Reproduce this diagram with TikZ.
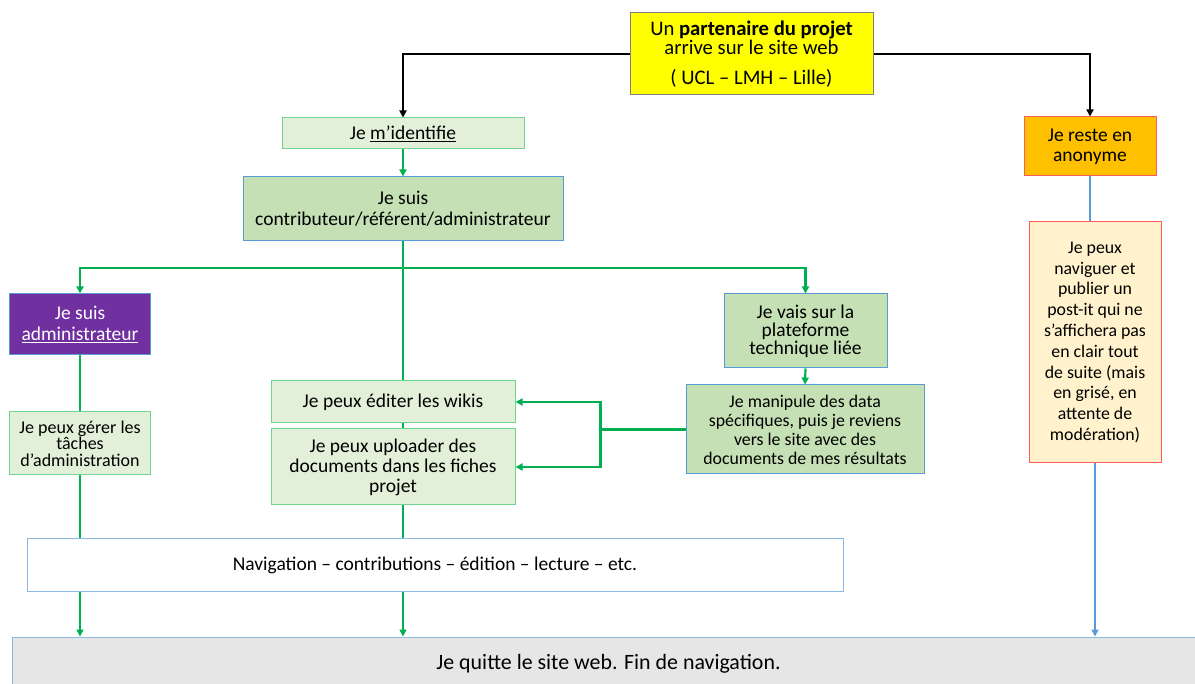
\documentclass[tikz,border=0pt]{standalone}
\usepackage{fontspec}
\setmainfont{Carlito}
\usetikzlibrary{arrows.meta}

\definecolor{filvert}{HTML}{00B050}
\definecolor{filbleu}{HTML}{5B9BD5}
\definecolor{vertpale}{HTML}{E2F0D9}
\definecolor{vertmoyen}{HTML}{C5E0B4}
\definecolor{bordvert}{HTML}{70D38E}
\definecolor{adminviolet}{HTML}{7030A0}
\definecolor{anonorange}{HTML}{FFC000}
\definecolor{postitcreme}{HTML}{FFF2CC}
\definecolor{bordrouge}{HTML}{FF5B5B}
\definecolor{grisquitte}{HTML}{E7E6E6}
\definecolor{jaunevif}{HTML}{FFFF00}

\tikzset{
  boite/.style={draw, align=center, inner sep=0pt, line width=1pt, font=\fontsize{19.5}{21}\selectfont},
  paleverte/.style={boite, fill=vertpale, draw=bordvert},
  moyenverte/.style={boite, fill=vertmoyen, draw=filbleu},
  lienvert/.style={filvert, line width=2.2pt},
  lienbleu/.style={filbleu, line width=1.8pt},
  liennoir/.style={black, line width=2.2pt},
  fleche/.style={-{Triangle[length=7pt,width=7pt]}},
}

\begin{document}
\begin{tikzpicture}[x=1pt, y=-1pt]
    \useasboundingbox[fill=white] (0,0) rectangle (1195,684);

    % depart
    \node[boite, fill=jaunevif, draw=gray, minimum width=243pt, minimum height=82pt, font=\fontsize{20.7}{17}\selectfont] (partenaire) at (751.5,54)
        {Un \textbf{partenaire du projet}\\ arrive sur le site web\\[13pt] ( UCL – LMH – Lille)};

    % branche identifiee
    \node[paleverte, minimum width=242pt, minimum height=31pt] (ident) at (403,133.5) {Je \underline{m’identifie}};
    \node[moyenverte, minimum width=320pt, minimum height=64pt] (contrib) at (403,209)
        {Je suis\\ contributeur/référent/administrateur};

    \node[boite, fill=adminviolet, draw=filbleu, text=white, minimum width=141pt, minimum height=61pt] (admin) at (80,324.5)
        {Je suis\\ \underline{administrateur}};
    \node[paleverte, minimum width=141pt, minimum height=63pt, font=\fontsize{18}{16.5}\selectfont] (gerer) at (80,443.5)
        {Je peux gérer les\\ tâches\\ d’administration};

    \node[paleverte, minimum width=244pt, minimum height=42pt] (wikis) at (393,402) {Je peux éditer les wikis};
    \node[paleverte, minimum width=244pt, minimum height=76pt, font=\fontsize{19.5}{20}\selectfont] (upload) at (393,467)
        {Je peux uploader des\\ documents dans les fiches\\ projet};

    \node[moyenverte, minimum width=163pt, minimum height=74pt, font=\fontsize{19.5}{18}\selectfont] (plateforme) at (805.5,331)
        {Je vais sur la\\ plateforme\\ technique liée};
    \node[moyenverte, minimum width=238pt, minimum height=89pt, font=\fontsize{17.8}{19}\selectfont] (manip) at (805,429.5)
        {Je manipule des data\\ spécifiques, puis je reviens\\ vers le site avec des\\ documents de mes résultats};

    \node[boite, fill=white, draw=filbleu!70, minimum width=816pt, minimum height=52pt] (navig) at (435,565)
        {Navigation – contributions – édition – lecture – etc.};

    % branche anonyme
    \node[boite, fill=anonorange, draw=bordrouge, minimum width=132pt, minimum height=59pt, font=\fontsize{19.5}{20}\selectfont] (anonyme) at (1090,146.5)
        {Je reste en\\ anonyme};
    \node[boite, fill=postitcreme, draw=bordrouge, minimum width=132pt, minimum height=241pt, font=\fontsize{17.8}{20.8}\selectfont] (postit) at (1095,342.5)
        {Je peux\\ naviguer et\\ publier un\\ post-it qui ne\\ s’affichera pas\\ en clair tout\\ de suite (mais\\ en grisé, en\\ attente de\\ modération)};

    % sortie
    \node[boite, fill=grisquitte, draw=filbleu!70, minimum width=1193pt, minimum height=53pt, font=\fontsize{21.9}{24}\selectfont] (quitte) at (608.5,663.5)
        {Je quitte le site web. Fin de navigation.};

    \coordinate (fourche) at (403,268);

    % liens noirs
    \draw[liennoir, fleche] (partenaire.west) -| (ident.north);
    \draw[liennoir, fleche] (partenaire.east) -| (anonyme.north);

    % liens verts
    \draw[lienvert, fleche] (ident.south) -- (contrib.north);
    \draw[lienvert] (contrib.south) -- (fourche);
    \draw[lienvert, fleche] (fourche) -| (admin.north);
    \draw[lienvert, fleche] (fourche) -| (plateforme.north);
    \draw[lienvert] (fourche) -- (fourche |- wikis.north);
    \draw[lienvert] (fourche |- wikis.south) -- (fourche |- upload.north);
    \draw[lienvert] (fourche |- upload.south) -- (fourche |- navig.north);
    \draw[lienvert, line width=1.5pt, fleche] (fourche |- navig.south) -- (fourche |- quitte.north);

    \draw[lienvert] (admin.south) -- (gerer.north);
    \draw[lienvert] (gerer.south) -- (gerer.south |- navig.north);
    \draw[lienvert, line width=1.5pt, fleche] (gerer.south |- navig.south) -- (gerer.south |- quitte.north);

    \draw[lienvert, fleche] (plateforme.south) -- (manip.north);
    \draw[lienvert] (manip.west) -- ++(-85,0) coordinate (retour);
    \draw[lienvert, fleche] (retour) |- (wikis.east);
    \draw[lienvert, fleche] (retour) |- (upload.east);

    % liens bleus
    \draw[lienbleu] (anonyme.south) -- (anonyme.south |- postit.north);
    \draw[lienbleu, fleche] (postit.south) -- (postit.south |- quitte.north);
\end{tikzpicture}
\end{document}
